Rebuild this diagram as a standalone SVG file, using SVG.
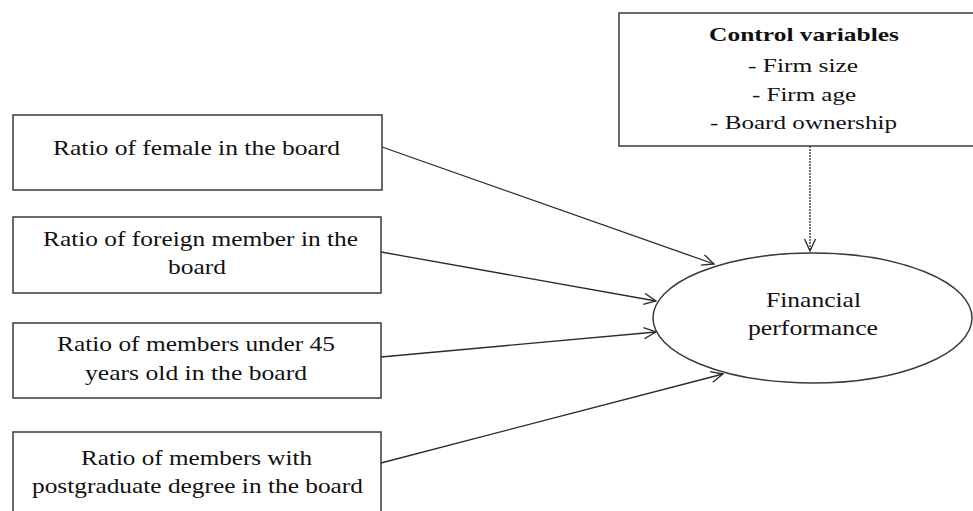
<svg xmlns="http://www.w3.org/2000/svg" width="973" height="511" viewBox="0 0 973 511">
<style>
.box{fill:#fff;stroke:#3a3a3a;stroke-width:1.5}
.t{font-family:"Liberation Serif","Times New Roman",serif;font-size:21px;fill:#111;text-anchor:middle}
.c{font-size:19.5px}
.b{font-weight:bold}
.ln{stroke:#2a2a2a;stroke-width:1.3;fill:none}
.dash{stroke-dasharray:2,1}
</style>
<defs>
<marker id="ah" markerUnits="userSpaceOnUse" markerWidth="16" markerHeight="14" refX="13" refY="6" orient="auto">
<path d="M1,0.5 L13,6 L1,11.5" fill="none" stroke="#2a2a2a" stroke-width="1.3"/>
</marker>
</defs>
<rect width="973" height="511" fill="#fff"/>
<g id="connectors">
<line class="ln" x1="382" y1="147" x2="714" y2="264" marker-end="url(#ah)"/>
<line class="ln" x1="381" y1="252" x2="656" y2="301" marker-end="url(#ah)"/>
<line class="ln" x1="381" y1="357" x2="656" y2="332" marker-end="url(#ah)"/>
<line class="ln" x1="381" y1="463" x2="723" y2="374" marker-end="url(#ah)"/>
<line class="ln dash" x1="810" y1="146" x2="810" y2="251" marker-end="url(#ah)"/>
</g>
<g id="control">
<rect class="box" x="619" y="13" width="370" height="133"/>
<text class="t c b" x="804" y="41" textLength="190" lengthAdjust="spacingAndGlyphs">Control variables</text>
<text class="t c" x="803" y="71.5" textLength="110" lengthAdjust="spacingAndGlyphs">- Firm size</text>
<text class="t c" x="804" y="100.5" textLength="104" lengthAdjust="spacingAndGlyphs">- Firm age</text>
<text class="t c" x="803.5" y="129" textLength="187" lengthAdjust="spacingAndGlyphs">- Board ownership</text>
</g>
<g id="female">
<rect class="box" x="13" y="115" width="369" height="75"/>
<text class="t" x="196.5" y="155" textLength="287" lengthAdjust="spacingAndGlyphs">Ratio of female in the board</text>
</g>
<g id="foreign">
<rect class="box" x="13" y="217" width="368" height="76"/>
<text class="t" x="200.5" y="245.5" textLength="315" lengthAdjust="spacingAndGlyphs">Ratio of foreign member in the</text>
<text class="t" x="197" y="274" textLength="58" lengthAdjust="spacingAndGlyphs">board</text>
</g>
<g id="under45">
<rect class="box" x="13" y="323" width="368" height="75"/>
<text class="t" x="196" y="351" textLength="278" lengthAdjust="spacingAndGlyphs">Ratio of members under 45</text>
<text class="t" x="196" y="380" textLength="222" lengthAdjust="spacingAndGlyphs">years old in the board</text>
</g>
<g id="postgrad">
<rect class="box" x="13" y="432" width="368" height="90"/>
<text class="t" x="196.5" y="465" textLength="231" lengthAdjust="spacingAndGlyphs">Ratio of members with</text>
<text class="t" x="197.5" y="493" textLength="331" lengthAdjust="spacingAndGlyphs">postgraduate degree in the board</text>
</g>
<g id="performance">
<ellipse class="box" cx="812.5" cy="318" rx="159.5" ry="65"/>
<text class="t" x="813.5" y="307" textLength="95" lengthAdjust="spacingAndGlyphs">Financial</text>
<text class="t" x="813" y="335" textLength="130" lengthAdjust="spacingAndGlyphs">performance</text>
</g>
</svg>
